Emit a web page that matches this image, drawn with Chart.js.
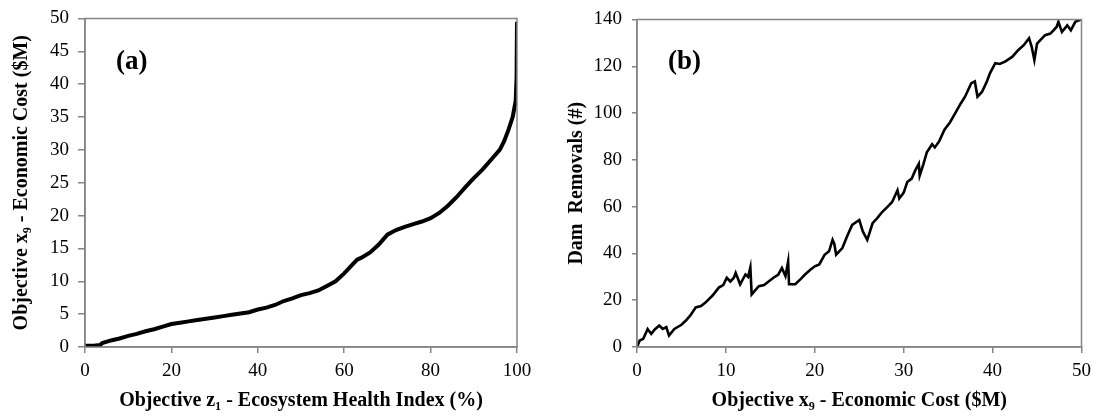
<!DOCTYPE html>
<html>
<head>
<meta charset="utf-8">
<script src="https://cdn.jsdelivr.net/npm/chart.js@4/dist/chart.umd.min.js"></script>
<style>
  body { margin:0; background:#fff; width:1098px; height:420px; overflow:hidden; }
  .box { position:absolute; top:0; height:420px; }
</style>
</head>
<body>
<div class="box" style="left:0;width:549px"><canvas id="chartA"></canvas></div>
<div class="box" style="left:549px;width:549px"><canvas id="chartB"></canvas></div>
<script>
// panel (a): ecosystem health index (%) vs economic cost ($M)
let healthIdx = [0, 2, 3.5, 4, 6, 8, 10, 12, 14, 16, 18, 20, 22, 24, 26, 28, 30, 32, 34, 36, 38, 40, 42, 44, 46, 48, 50, 52, 54, 56, 58, 60, 62, 63, 64, 66, 68, 70, 72, 74, 76, 78, 80, 82, 84, 86, 88, 90, 92, 94, 96, 97, 98, 99, 99.7, 99.9, 100]
let costA = [0.2, 0.2, 0.3, 0.6, 1.0, 1.3, 1.7, 2.0, 2.4, 2.7, 3.1, 3.5, 3.7, 3.9, 4.1, 4.3, 4.5, 4.7, 4.9, 5.1, 5.3, 5.7, 6.0, 6.4, 7.0, 7.4, 7.9, 8.2, 8.6, 9.3, 10.0, 11.2, 12.6, 13.3, 13.6, 14.4, 15.6, 17.1, 17.8, 18.3, 18.7, 19.1, 19.6, 20.4, 21.5, 22.8, 24.3, 25.7, 27.0, 28.5, 30.0, 31.3, 33.0, 35.0, 37.5, 41, 49.5]

// panel (b): economic cost ($M) vs dam removals
let costB = [0, 0.3, 0.7, 1.2, 1.6, 2.0, 2.5, 2.9, 3.3, 3.6, 4.2, 5.0, 5.5, 6.0, 6.6, 7.2, 7.7, 8.5, 9.2, 9.7, 10.1, 10.5, 10.9, 11.1, 11.6, 12.2, 12.5, 12.75, 12.9, 13.7, 14.3, 14.8, 15.5, 15.9, 16.3, 16.7, 17.0, 17.1, 17.8, 18.4, 18.9, 19.5, 20.0, 20.5, 21.1, 21.6, 22.0, 22.2, 22.4, 23.1, 23.6, 24.2, 25.0, 25.4, 25.9, 26.5, 27.0, 27.6, 28.2, 28.7, 29.3, 29.5, 30.0, 30.4, 30.9, 31.3, 31.7, 31.8, 32.2, 32.6, 33.2, 33.5, 34.0, 34.6, 35.2, 35.8, 36.4, 36.9, 37.6, 38.0, 38.3, 38.8, 39.3, 39.7, 40.3, 40.8, 41.4, 42.2, 42.9, 43.5, 44.1, 44.4, 44.7, 45.0, 45.9, 46.5, 47.2, 47.4, 47.8, 48.4, 48.8, 49.3, 49.9]
let dams = [0, 2.8, 3.5, 7.7, 5.6, 7.5, 9.2, 7.7, 8.5, 4.9, 7.7, 9.5, 11.3, 13.5, 16.9, 17.5, 19, 22, 25.4, 26.5, 29.6, 28, 29.6, 31.7, 26.8, 31, 30, 34, 22.5, 26, 26.5, 28, 30, 31, 33.8, 30.3, 36.6, 26.8, 26.8, 29, 31, 33, 34.5, 35.3, 39.4, 40.9, 45.8, 44, 39.5, 42.3, 47, 52.2, 54.3, 49.4, 45.8, 52.9, 55, 57.8, 60, 62, 67, 63.5, 66, 70.5, 72, 75.5, 78.3, 73.3, 78, 83.2, 86.7, 85.3, 88, 93, 96, 100, 104, 107, 112.8, 113.5, 107, 109, 113, 117, 121.3, 121, 122, 124, 127, 129, 132, 128.3, 122.7, 129.7, 133.3, 134, 136.8, 139, 134.7, 137.5, 135.4, 139, 140]

let xTicksA = [0, 20, 40, 60, 80, 100]
let yTicksA = [0, 5, 10, 15, 20, 25, 30, 35, 40, 45, 50]
let xTicksB = [0, 10, 20, 30, 40, 50]
let yTicksB = [0, 20, 40, 60, 80, 100, 120, 140]

const serif = "'Liberation Serif', 'Times New Roman', serif"
const grey = '#858585'

function pairs(xs, ys){
    let out = []
    for(let i = 0; i < xs.length; i++){
        out.push({x: xs[i], y: ys[i]})
    }
    return out
}

// frame around plot + panel letter
function framePlugin(letter){
    return {
        id: 'frame',
        afterDraw(chart){
            let c = chart.ctx
            let a = chart.chartArea
            c.save()
            c.strokeStyle = grey
            c.lineWidth = 1.5
            c.strokeRect(a.left, a.top, a.right - a.left, a.bottom - a.top)
            c.fillStyle = '#000'
            c.font = "bold 27px " + serif
            c.textBaseline = 'middle'
            c.fillText(letter, a.left + 31, 62)
            c.restore()
        }
    }
}

function makeChart(id, data, lw, xt, yt, xTitle, yTitle, yW, padR, yTickLen, yTickPad, yTitlePad){
    return new Chart(document.getElementById(id), {
        type: 'scatter',
        data: {
            datasets: [{
                data: data,
                showLine: true,
                borderColor: '#000',
                borderWidth: lw,
                pointRadius: 0,
                tension: 0
            }]
        },
        options: {
            responsive: true,
            maintainAspectRatio: false,
            animation: false,
            layout: {padding: {top: 12, right: padR, bottom: 0, left: 0}},
            plugins: {legend: {display: false}, tooltip: {enabled: false}},
            scales: {
                x: {
                    type: 'linear',
                    min: xt[0], max: xt[xt.length - 1],
                    afterBuildTicks: (s) => { s.ticks = xt.map(v => ({value: v})) },
                    afterFit: (s) => { s.height = 73 },
                    grid: {drawOnChartArea: false, tickLength: 6, color: grey, lineWidth: 1.5},
                    border: {color: grey, width: 1.5},
                    ticks: {color: '#000', padding: 7, maxRotation: 0, font: {family: serif, size: 19}},
                    title: {display: true, text: xTitle, color: '#000', padding: {top: 0, bottom: 7},
                        font: {family: serif, size: 20, weight: 'bold'}}
                },
                y: {
                    type: 'linear',
                    min: yt[0], max: yt[yt.length - 1],
                    afterBuildTicks: (s) => { s.ticks = yt.map(v => ({value: v})) },
                    afterFit: (s) => { s.width = yW },
                    grid: {drawOnChartArea: false, tickLength: yTickLen, color: grey, lineWidth: 1.5},
                    border: {color: grey, width: 1.5},
                    ticks: {color: '#000', padding: yTickPad, font: {family: serif, size: 19, lineHeight: 1}},
                    title: {display: true, text: yTitle, color: '#000', padding: {top: yTitlePad, bottom: 0},
                        font: {family: serif, size: 20, weight: 'bold'}}
                }
            }
        },
        plugins: [framePlugin(id == 'chartA' ? '(a)' : '(b)')]
    })
}

makeChart('chartA', pairs(healthIdx, costA), 4, xTicksA, yTicksA,
    'Objective z\u2081 - Ecosystem Health Index (%)', 'Objective x\u2089 - Economic Cost ($M)', 85, 32, 7, 9, 10)
makeChart('chartB', pairs(costB, dams), 2.6, xTicksB, yTicksB,
    'Objective x\u2089 - Economic Cost ($M)', 'Dam  Removals (#)', 88, 14, 5, 10, 16)
</script>
</body>
</html>
